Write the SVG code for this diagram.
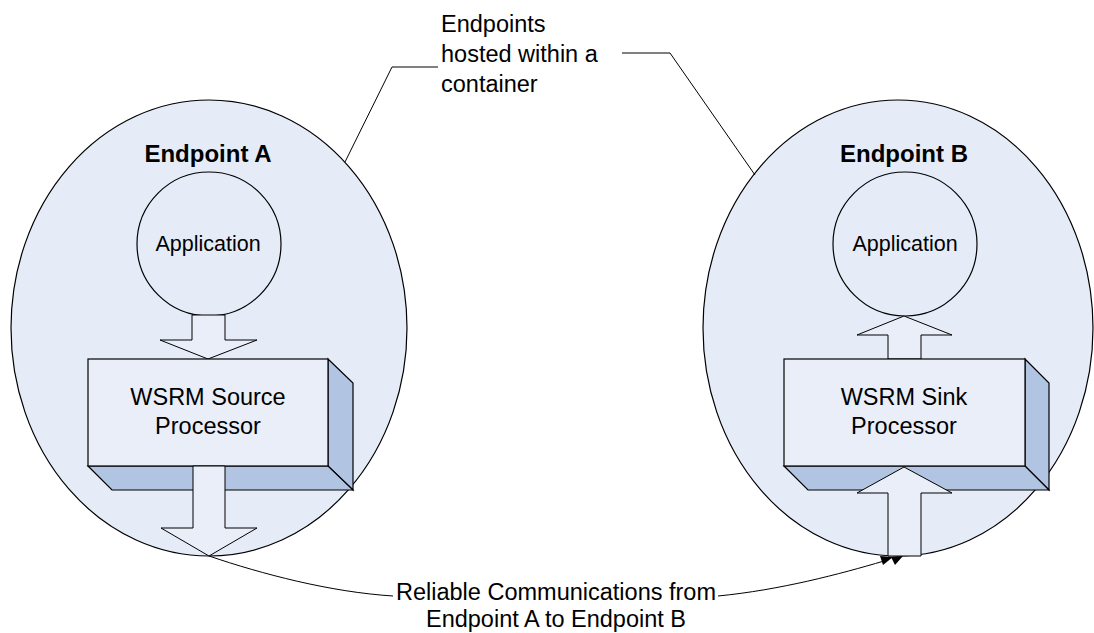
<svg xmlns="http://www.w3.org/2000/svg" width="1094" height="633" viewBox="0 0 1094 633">
<style>
.ell{fill:#e6ecf7;stroke:#000;stroke-width:1.2}
.front{fill:#e9eef8;stroke:#000;stroke-width:1.2}
.side{fill:#b1c5e3;stroke:#000;stroke-width:1.2}
.arr{fill:#e9eef8;stroke:#000;stroke-width:1}
.ln{fill:none;stroke:#000;stroke-width:1}
text{font-family:"Liberation Sans",Arial,sans-serif;fill:#000}
.t{font-size:23.5px}
.b{font-size:24px;font-weight:bold}
.app{font-size:21.5px}
</style>
<g id="endpointA">
<ellipse class="ell" cx="209" cy="328" rx="198" ry="228"/>
<text class="b" x="208" y="162" text-anchor="middle">Endpoint A</text>
</g>
<g id="endpointB">
<ellipse class="ell" cx="898" cy="328" rx="195" ry="228"/>
<text class="b" x="904" y="162" text-anchor="middle">Endpoint B</text>
</g>
<g id="appA">
<circle class="ell" cx="209" cy="244" r="72"/>
<text class="app" x="208" y="251" text-anchor="middle">Application</text>
</g>
<g id="appB">
<circle class="ell" cx="905" cy="244" r="72"/>
<text class="app" x="905" y="251" text-anchor="middle">Application</text>
</g>
<g id="arrowA1">
<polygon class="arr" points="192,315 225,315 225,340 257,340 208,359 160,340 192,340"/>
</g>
<g id="arrowB1">
<polygon class="arr" points="888,359 921,359 921,335 952,335 904,316 857,335 888,335"/>
</g>
<g id="sourceProcessor">
<polygon class="side" points="328,359 353,383 353,490 328,466"/>
<polygon class="side" points="88,466 328,466 353,490 112,490"/>
<rect class="front" x="88" y="359" width="240" height="107"/>
<text class="t" x="208" y="405" text-anchor="middle">WSRM Source</text>
<text class="t" x="208" y="434" text-anchor="middle">Processor</text>
</g>
<g id="sinkProcessor">
<polygon class="side" points="1025,359 1049,383 1049,490 1025,466"/>
<polygon class="side" points="784,466 1025,466 1049,490 808,490"/>
<rect class="front" x="784" y="359" width="241" height="107"/>
<text class="t" x="904" y="405" text-anchor="middle">WSRM Sink</text>
<text class="t" x="904" y="434" text-anchor="middle">Processor</text>
</g>
<g id="arrowA2">
<polygon class="arr" points="193,466 225,466 225,528 257,528 209,556 161,528 193,528"/>
</g>
<g id="arrowB2">
<polygon class="arr" points="888,556 921,556 921,493 952,493 904,467 857,493 888,493"/>
</g>
<g id="callout">
<text class="t" x="441" y="32">Endpoints</text>
<text class="t" x="441" y="62">hosted within a</text>
<text class="t" x="441" y="92">container</text>
</g>
<g id="commLabel">
<text class="t" x="556" y="600" text-anchor="middle">Reliable Communications from</text>
<text class="t" x="556" y="627" text-anchor="middle">Endpoint A to Endpoint B</text>
</g>
<g id="connectors">
<polyline class="ln" points="345,162 392,67 438,67"/>
<polyline class="ln" points="622,53 670,53 755,175"/>
<path class="ln" d="M209,556 C262,574 330,592 393,596"/>
<path class="ln" d="M718,596 C780,590 840,574 884,561"/>
<polygon points="893,557 880,556 883,565" fill="#000"/>
<polygon points="903,556 891,557 895,565" fill="#000"/>
</g>
</svg>
